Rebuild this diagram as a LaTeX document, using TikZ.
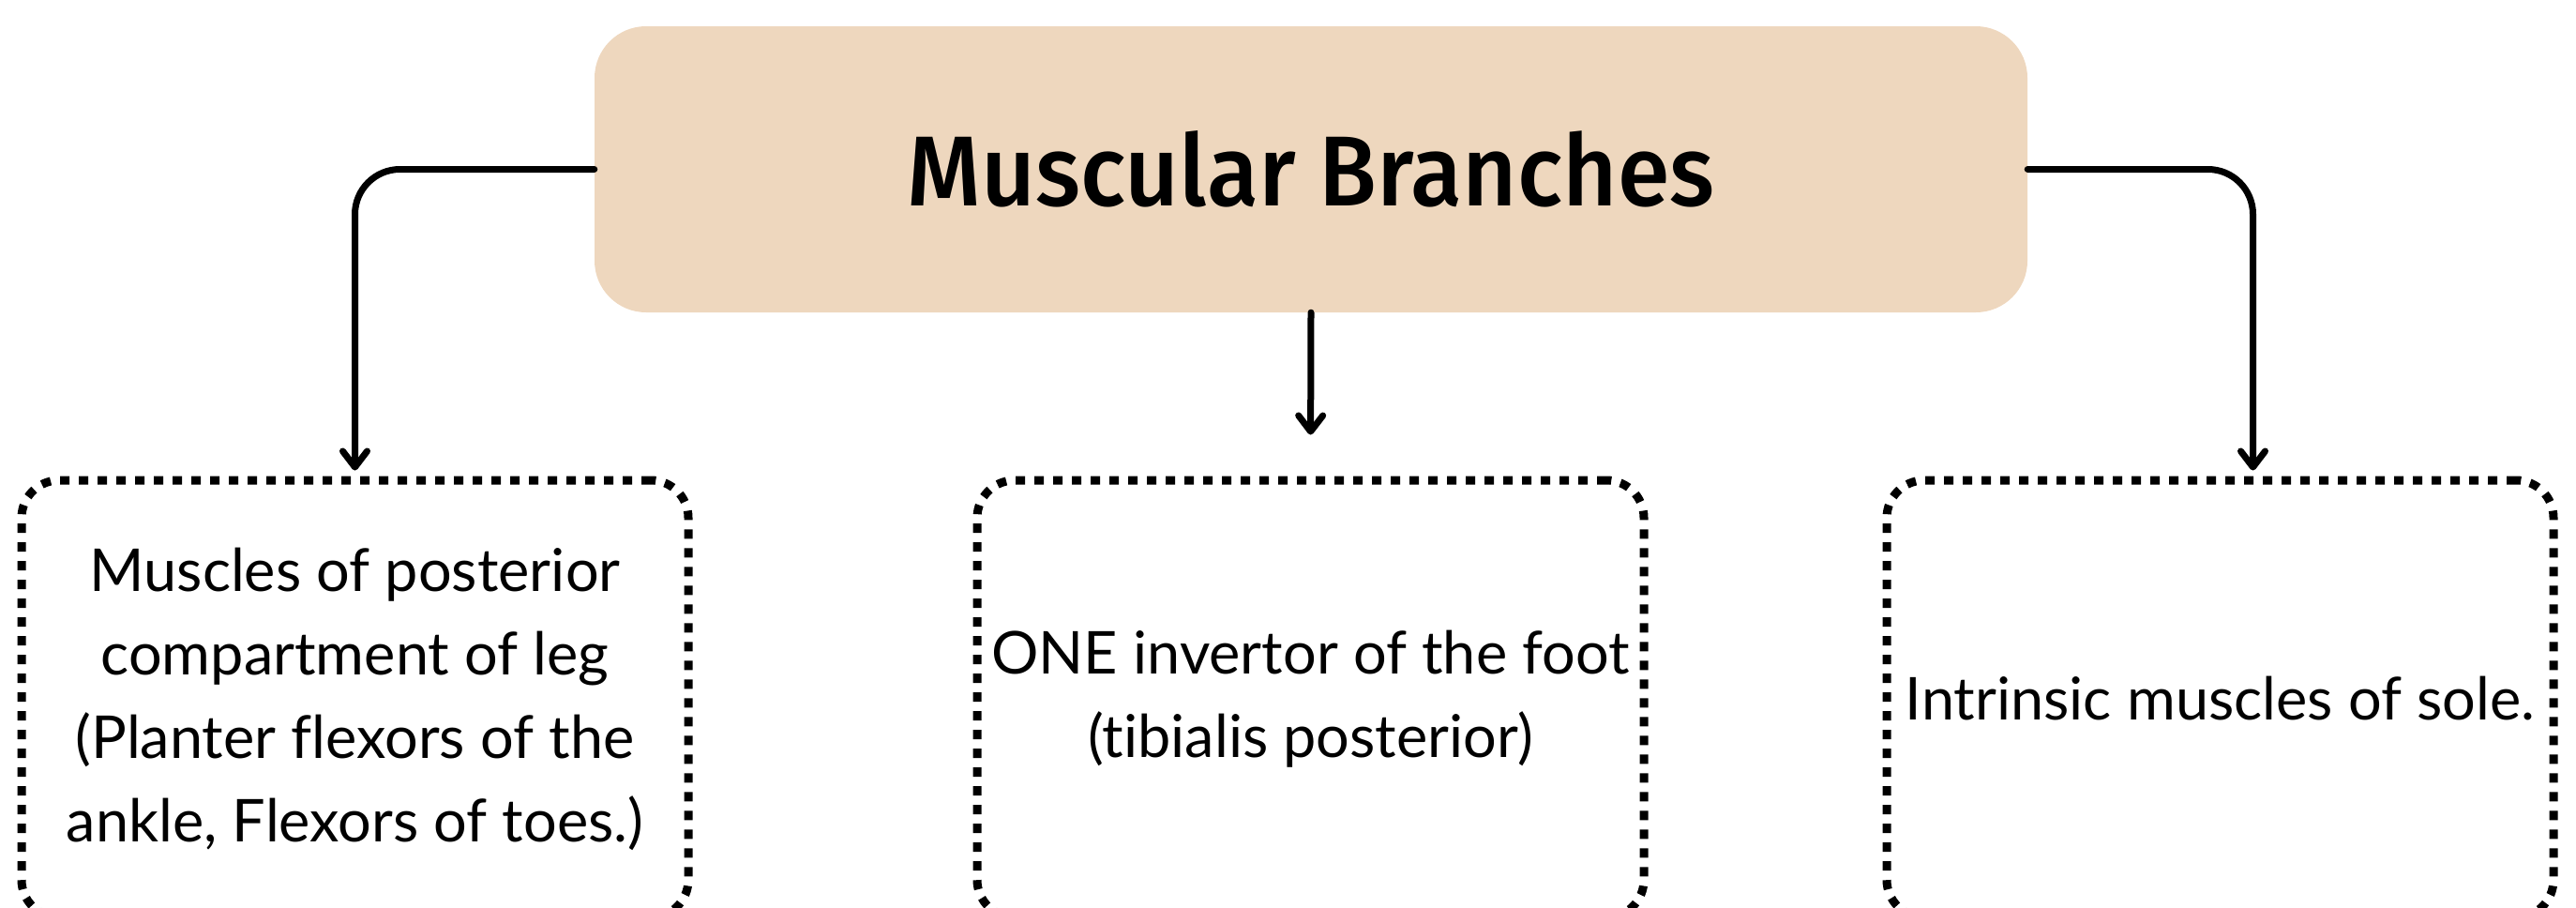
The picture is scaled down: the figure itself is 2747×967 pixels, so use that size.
\documentclass[tikz,border=0pt]{standalone}
\usepackage{fontspec}
\setmainfont[Ligatures={NoCommon}]{Lato}
\newfontfamily\titlefont[FakeStretch=0.95]{Fira Sans Medium}
\usetikzlibrary{arrows.meta}
\definecolor{topfill}{HTML}{EED7BE}
\tikzset{
  titlebox/.style={fill=topfill, draw=none, rounded corners=55pt,
    minimum width=1528pt, minimum height=305pt, inner sep=0pt,
    font=\titlefont\fontsize{106}{120}\selectfont},
  leafbox/.style={draw=black, line width=9pt, dash pattern=on 10pt off 10pt,
    rounded corners=40pt, minimum width=711pt, minimum height=466pt,
    inner sep=0pt, align=center, font=\fontsize{63}{89}\selectfont},
  conn/.style={draw=black, line width=7pt, rounded corners=48pt, line cap=round,
    -{Straight Barb[length=17pt,width=26pt,line width=7pt,round]}}
}
\begin{document}
\begin{tikzpicture}[x=1pt,y=-1pt]
\useasboundingbox (0,0) rectangle (2747,967);
\node[titlebox] (top) at (1398,180.5) {Muscular Branches};
\node[leafbox] (left) at (378.5,745) {Muscles of posterior\\compartment of leg\\(Planter flexors of the\\ankle, Flexors of toes.)};
\node[leafbox] (mid) at (1397.5,745) {ONE invertor of the foot\\(tibialis posterior)};
\node[leafbox] (right) at (2367.5,745) {Intrinsic muscles of sole.};
\draw[conn, shorten >=6pt] (top.west) -| (left.north);
\draw[conn, shorten >=44pt] (top.south) -- (mid.north);
\draw[conn, shorten >=6pt] (top.east) -| ([xshift=35pt]right.north);
\end{tikzpicture}
\end{document}
